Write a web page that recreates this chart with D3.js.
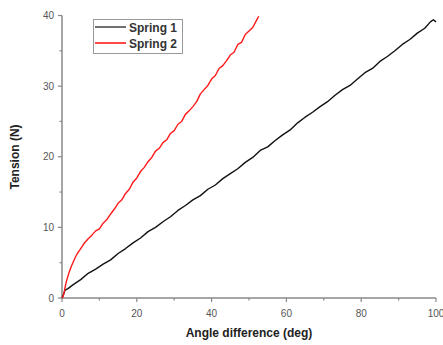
<!DOCTYPE html>
<html>
<head>
<meta charset="utf-8">
<script src="https://cdn.jsdelivr.net/npm/d3@7"></script>
<style>
body { margin: 0; background: #fff; }
svg { display: block; font-family: "Liberation Sans", Arial, sans-serif; }
.tickText { font-size: 10px; fill: #555; }
.axisTitle { font-size: 12px; font-weight: bold; fill: #222; }
.legendText { font-size: 12px; font-weight: bold; fill: #333; }
</style>
</head>
<body>
<div id="chart"></div>
<script>
// spring 1 (black)
var spring1Angle = [0, 0.4, 0.8, 1.5, 3, 5, 7, 9, 11, 13, 15, 17, 19, 21, 23, 25, 27, 29, 31, 33, 35, 37, 39, 41, 43, 45, 47, 49, 51, 53, 55, 57, 59, 61, 63, 65, 67, 69, 71, 73, 75, 77, 79, 81, 83, 85, 87, 89, 91, 93, 95, 97, 98.5, 99.3, 100];
var spring1Tension = [0, 0.5, 1.1, 1.3, 1.9, 2.6, 3.5, 4.1, 4.8, 5.4, 6.3, 7.0, 7.8, 8.5, 9.4, 10.0, 10.8, 11.5, 12.4, 13.1, 13.9, 14.5, 15.4, 16.0, 16.9, 17.6, 18.3, 19.2, 19.9, 20.9, 21.4, 22.3, 23.1, 23.8, 24.8, 25.6, 26.3, 27.1, 27.8, 28.7, 29.5, 30.1, 31.0, 31.9, 32.5, 33.5, 34.2, 35.0, 35.9, 36.6, 37.5, 38.2, 39.1, 39.4, 39.1];

// spring 2 (red)
var spring2Angle = [0, 0.3, 0.6, 0.9, 1.2, 1.6, 2, 2.5, 3, 3.5, 4, 5, 6, 7, 8, 9, 10, 11, 12, 13, 14, 15, 16, 17, 18, 19, 20, 21, 22, 23, 24, 25, 26, 27, 28, 29, 30, 31, 32, 33, 34, 35, 36, 37, 38, 39, 40, 41, 42, 43, 44, 45, 46, 47, 48, 49, 50, 51, 52, 52.6];
var spring2Tension = [0, 0.2, 0.9, 1.7, 2.4, 3.1, 3.8, 4.5, 5.1, 5.7, 6.2, 7.0, 7.8, 8.4, 8.9, 9.5, 9.8, 10.6, 11.1, 11.9, 12.6, 13.4, 13.9, 14.8, 15.4, 16.4, 17.0, 17.9, 18.5, 19.3, 19.9, 20.8, 21.2, 22.0, 22.4, 23.3, 23.7, 24.6, 25.0, 26.0, 26.5, 27.1, 27.8, 28.9, 29.5, 30.1, 31.0, 31.5, 32.5, 32.9, 33.6, 34.4, 34.8, 35.9, 36.2, 37.3, 37.8, 38.3, 39.3, 39.9];

var xTicks = [0, 20, 40, 60, 80, 100];
var xMinorTicks = [10, 30, 50, 70, 90];
var yTicks = [0, 10, 20, 30, 40];
var yMinorTicks = [5, 15, 25, 35];
var seriesNames = ["Spring 1", "Spring 2"];
var seriesColors = ["#111", "#ff1a1a"];

var width = 443;
var height = 345;

var svg = d3.select("#chart")
.append("svg")
.attr("width", width)
.attr("height", height);

var x_scale = d3.scaleLinear().domain([0, 100]).range([62, 436]);
var y_scale = d3.scaleLinear().domain([0, 40]).range([298, 15.5]);

var axisColor = "#888";

// x axis
var xAxis = svg.append("g").attr("transform", "translate(0, 298)");
xAxis.append("line")
.attr("x1", x_scale(0)).attr("x2", x_scale(100))
.attr("stroke", axisColor).attr("stroke-width", 1.5);
xAxis.selectAll(".major").data(xTicks).enter().append("line")
.attr("x1", function(d){ return x_scale(d); })
.attr("x2", function(d){ return x_scale(d); })
.attr("y1", 0).attr("y2", 4)
.attr("stroke", axisColor).attr("stroke-width", 1.2);
xAxis.selectAll(".minor").data(xMinorTicks).enter().append("line")
.attr("x1", function(d){ return x_scale(d); })
.attr("x2", function(d){ return x_scale(d); })
.attr("y1", 0).attr("y2", 2.5)
.attr("stroke", axisColor).attr("stroke-width", 1.2);
xAxis.selectAll("text").data(xTicks).enter().append("text")
.attr("class", "tickText")
.attr("x", function(d){ return x_scale(d); })
.attr("y", 19)
.attr("text-anchor", "middle")
.text(function(d){ return d; });

// y axis
var yAxis = svg.append("g").attr("transform", "translate(62, 0)");
yAxis.append("line")
.attr("y1", y_scale(0)).attr("y2", y_scale(40))
.attr("stroke", axisColor).attr("stroke-width", 1.5);
yAxis.selectAll(".major").data(yTicks).enter().append("line")
.attr("y1", function(d){ return y_scale(d); })
.attr("y2", function(d){ return y_scale(d); })
.attr("x1", 0).attr("x2", -4)
.attr("stroke", axisColor).attr("stroke-width", 1.2);
yAxis.selectAll(".minor").data(yMinorTicks).enter().append("line")
.attr("y1", function(d){ return y_scale(d); })
.attr("y2", function(d){ return y_scale(d); })
.attr("x1", 0).attr("x2", -2.5)
.attr("stroke", axisColor).attr("stroke-width", 1.2);
yAxis.selectAll("text").data(yTicks).enter().append("text")
.attr("class", "tickText")
.attr("x", -8)
.attr("y", function(d){ return y_scale(d) + 3.5; })
.attr("text-anchor", "end")
.text(function(d){ return d; });

// axis titles
svg.append("text")
.attr("class", "axisTitle")
.attr("x", 249).attr("y", 337)
.attr("text-anchor", "middle")
.text("Angle difference (deg)");

svg.append("text")
.attr("class", "axisTitle")
.attr("transform", "translate(19, 157)rotate(-90)")
.attr("text-anchor", "middle")
.text("Tension (N)");

// lines
var line = d3.line()
.x(function(d){ return x_scale(d[0]); })
.y(function(d){ return y_scale(d[1]); });

var series = [
    d3.zip(spring1Angle, spring1Tension),
    d3.zip(spring2Angle, spring2Tension)
];

svg.selectAll(".series").data(series).enter().append("path")
.attr("d", line)
.attr("fill", "none")
.attr("stroke", function(d, i){ return seriesColors[i]; })
.attr("stroke-width", 1.4)
.attr("stroke-linejoin", "round");

// legend
var legend = svg.append("g");
legend.append("rect")
.attr("x", 93.5).attr("y", 19.5)
.attr("width", 89).attr("height", 34)
.attr("fill", "#fff")
.attr("stroke", "#999");

var legendItems = legend.selectAll(".item").data(seriesNames).enter().append("g")
.attr("transform", function(d, i){ return "translate(0, " + (27 + i * 16) + ")"; });
legendItems.append("line")
.attr("x1", 95).attr("x2", 126)
.attr("stroke", function(d, i){ return seriesColors[i]; })
.attr("stroke-width", function(d, i){ return i === 0 ? 1.2 : 1.6; });
legendItems.append("text")
.attr("class", "legendText")
.attr("x", 129).attr("y", 4.5)
.text(function(d){ return d; });
</script>
</body>
</html>
